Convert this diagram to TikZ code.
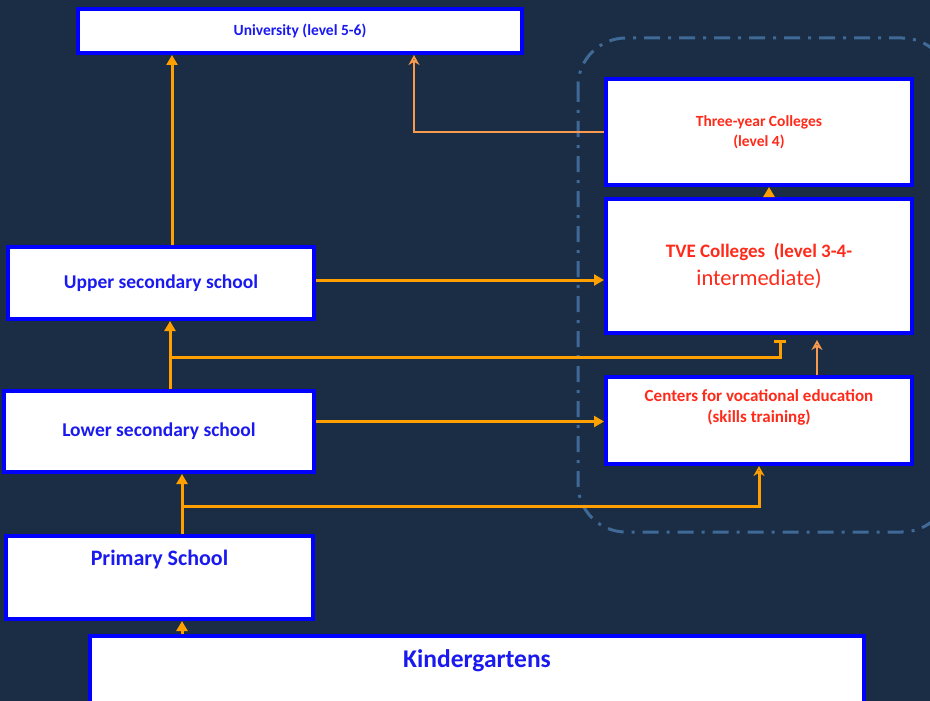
\documentclass[tikz,border=0pt]{standalone}
\usepackage{fontspec}
\setmainfont{Carlito}
\usetikzlibrary{arrows.meta}
\usetikzlibrary{calc}
\usetikzlibrary{positioning}

\definecolor{bgnavy}{HTML}{1A2D44}
\definecolor{boxblue}{HTML}{0000FF}
\definecolor{txtblue}{HTML}{1A1AF0}
\definecolor{txtred}{HTML}{FF2A1A}
\definecolor{feedorange}{HTML}{FFA000}
\definecolor{softorange}{HTML}{F79A4E}
\definecolor{ringblue}{HTML}{3F6A97}

\tikzset{
  box/.style={draw=boxblue, line width=4pt, fill=white, inner sep=0pt, align=center},
  feed/.style={draw=feedorange, line width=3pt, -{Triangle[width=11pt,length=10pt]}},
  softfeed/.style={draw=softorange, line width=2pt, -{Stealth[width=11pt,length=10pt,open]}},
}

\begin{document}
\begin{tikzpicture}[x=1pt,y=-1pt]
  \useasboundingbox (0,0) rectangle (930,701);
  \fill[bgnavy] (0,0) rectangle (930,701);
  % dashed group
  \draw[ringblue, line width=3pt, rounded corners=48pt,
        dash pattern=on 16pt off 8pt on 3pt off 8pt] (578,38) rectangle (950,532);

  \node[box, minimum width=444pt, minimum height=44pt, text=txtblue, font=\bfseries\fontsize{15.5}{18}\selectfont]
    (univ) at (300,31) {University (level 5-6)};
  \node[box, minimum width=306pt, minimum height=106pt, text=txtred, font=\bfseries\fontsize{15.5}{20}\selectfont]
    (threeyr) at (759,132) {Three-year Colleges\\(level 4)};
  \node[box, minimum width=306pt, minimum height=134pt, text=txtred]
    (tve) at (759,266) {{\bfseries\fontsize{19}{22}\selectfont TVE Colleges\ \ (level 3-4-}\\[7pt]{\fontsize{22.5}{24}\selectfont intermediate)}};
  \node[box, minimum width=306pt, minimum height=72pt, text=txtblue, font=\bfseries\fontsize{19.5}{22}\selectfont]
    (upper) at (161,283) {Upper secondary school};
  \node[box, minimum width=310pt, minimum height=81pt, text=txtblue, font=\bfseries\fontsize{19.5}{22}\selectfont]
    (lower) at (159,431.5) {Lower secondary school};
  \node[box, minimum width=306pt, minimum height=87pt,
        label={[anchor=north, yshift=-11pt, text=txtred, align=center, font=\bfseries\fontsize{17}{21}\selectfont]north:Centers for vocational education\\(skills training)}]
    (centers) at (759,420.5) {};
  \node[box, minimum width=307pt, minimum height=83pt,
        label={[anchor=north, yshift=-13pt, text=txtblue, font=\bfseries\fontsize{22}{25}\selectfont]north:Primary School}]
    (primary) at (159.5,577.5) {};
  \node[box, minimum width=774pt, minimum height=76pt,
        label={[anchor=north, yshift=-12pt, text=txtblue, font=\bfseries\fontsize{25.5}{28}\selectfont]north:Kindergartens}]
    (kinder) at (477,674) {};

  \coordinate (j1) at ($(lower.north)+(11,-32)$);
  \coordinate (j2) at ($(primary.north)+(22.5,-28)$);

  \draw[feed] ([xshift=11pt]upper.north) -- ([xshift=11pt]upper.north |- univ.south);
  \draw[softfeed] (threeyr.west) -| ([xshift=114pt]univ.south);
  \draw[feed] ([xshift=10pt]tve.north) -- ([xshift=10pt]tve.north |- threeyr.south);
  \draw[feed] ([yshift=3pt]upper.east) -- ([yshift=3pt]upper.east -| tve.west);
  \draw[feed] ([xshift=11pt]lower.north) -- ([xshift=11pt]lower.north |- upper.south);
  \draw[draw=feedorange, line width=3pt, -{Bar[width=12pt]}, shorten >=5pt] (j1) -| ([xshift=21pt]tve.south);
  \draw[softfeed, shorten >=5pt] ([xshift=58pt]centers.north) -- ([xshift=58pt]tve.south);
  \draw[feed] ([yshift=10pt]lower.east) -- ([yshift=10pt]lower.east -| centers.west);
  \draw[feed] ([xshift=22.5pt]primary.north) -- ([xshift=22.5pt]primary.north |- lower.south);
  \draw[feed, -{Stealth[width=11pt,length=10pt,open]}] (j2) -| (centers.south);
  \draw[feed] ([xshift=22.5pt]primary.south |- kinder.north) -- ([xshift=22.5pt]primary.south);
\end{tikzpicture}
\end{document}
